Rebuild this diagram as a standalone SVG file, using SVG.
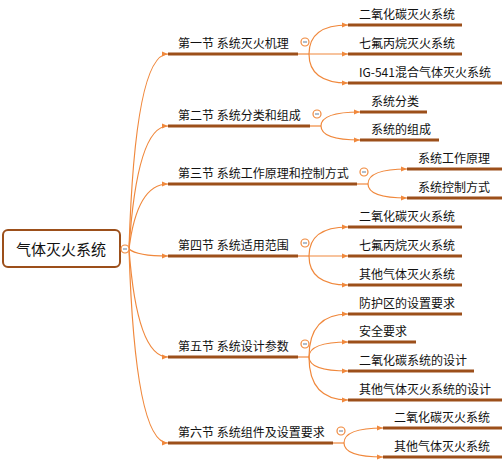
<svg xmlns="http://www.w3.org/2000/svg" width="502" height="464" viewBox="0 0 502 464">
<defs>
<marker id="arr" viewBox="0 0 6 6" refX="6" refY="3" markerWidth="6" markerHeight="6" markerUnits="userSpaceOnUse" orient="auto">
<path d="M0,0.5 L6,3 L0,5.5 Z" fill="#f0883c"/>
</marker>
<style>
.t{font-family:"Noto Sans CJK SC","Microsoft YaHei",sans-serif;font-size:12px;fill:#111}
.r{font-family:"Noto Sans CJK SC","Microsoft YaHei",sans-serif;font-size:15px;fill:#111}
.u{stroke:#9c4f1a;stroke-width:3;fill:none}
.c{stroke:#f0883c;stroke-width:1.2;fill:none;marker-end:url(#arr)}
.cl{stroke:#f0883c;stroke-width:1.2;fill:none}
.k{fill:#fff;stroke:#f0883c;stroke-width:1.2}
.m{stroke:#8fa3b8;stroke-width:1.4}
</style>
</defs>
<rect width="502" height="464" fill="#fff"/>
<g id="connectors">
<path class="c" d="M129,249 Q135,54 168,54"/>
<path class="c" d="M129,249 Q137,126 168,126"/>
<path class="c" d="M129,249 Q137,184 168,184"/>
<path class="c" d="M129,249 Q137,256 168,256"/>
<path class="c" d="M129,249 Q137,357 168,357"/>
<path class="c" d="M129,249 Q135,443 168,443"/>
<path class="cl" d="M298,54 L309,54"/>
<path class="c" d="M309,54 Q309,25 348,25"/>
<path class="c" d="M309,54 L348,54"/>
<path class="c" d="M309,54 Q309,83 348,83"/>
<path class="cl" d="M310,126 L321,126"/>
<path class="c" d="M321,126 Q321,112 360,112"/>
<path class="c" d="M321,126 Q321,140 360,140"/>
<path class="cl" d="M357,184 L368,184"/>
<path class="c" d="M368,184 Q368,169 407,169"/>
<path class="c" d="M368,184 Q368,198 407,198"/>
<path class="cl" d="M298,256 L309,256"/>
<path class="c" d="M309,256 Q309,227 348,227"/>
<path class="c" d="M309,256 L348,256"/>
<path class="c" d="M309,256 Q309,285 348,285"/>
<path class="cl" d="M298,357 L309,357"/>
<path class="c" d="M309,357 Q309,314 348,314"/>
<path class="c" d="M309,357 Q309,342 348,342"/>
<path class="c" d="M309,357 Q309,371 348,371"/>
<path class="c" d="M309,357 Q309,400 348,400"/>
<path class="cl" d="M333,443 L344,443"/>
<path class="c" d="M344,443 Q344,428 383,428"/>
<path class="c" d="M344,443 Q344,457 383,457"/>
</g>
<g id="root">
<rect x="3" y="230" width="117" height="37" rx="5" fill="#fff" stroke="#9c4f1a" stroke-width="2"/>
<text class="r" x="61" y="255" text-anchor="middle">气体灭火系统</text>
<circle class="k" cx="125" cy="249" r="4"/><line class="m" x1="123" y1="249" x2="127" y2="249"/>
</g>
<g id="n1">
<text class="t" x="178" y="48">第一节 系统灭火机理</text>
<line class="u" x1="168" y1="54" x2="298" y2="54"/>
<circle class="k" cx="305" cy="42" r="4"/><line class="m" x1="303" y1="42" x2="307" y2="42"/>
</g>
<g id="n1a"><text class="t" x="359" y="19">二氧化碳灭火系统</text><line class="u" x1="348" y1="25" x2="462" y2="25"/></g>
<g id="n1b"><text class="t" x="359" y="48">七氟丙烷灭火系统</text><line class="u" x1="348" y1="54" x2="462" y2="54"/></g>
<g id="n1c"><text class="t" x="359" y="77">IG-541混合气体灭火系统</text><line class="u" x1="348" y1="83" x2="502" y2="83"/></g>
<g id="n2">
<text class="t" x="178" y="120">第二节 系统分类和组成</text>
<line class="u" x1="168" y1="126" x2="310" y2="126"/>
<circle class="k" cx="317" cy="114" r="4"/><line class="m" x1="315" y1="114" x2="319" y2="114"/>
</g>
<g id="n2a"><text class="t" x="371" y="106">系统分类</text><line class="u" x1="360" y1="112" x2="427" y2="112"/></g>
<g id="n2b"><text class="t" x="371" y="134">系统的组成</text><line class="u" x1="360" y1="140" x2="439" y2="140"/></g>
<g id="n3">
<text class="t" x="178" y="178">第三节 系统工作原理和控制方式</text>
<line class="u" x1="168" y1="184" x2="357" y2="184"/>
<circle class="k" cx="364" cy="172" r="4"/><line class="m" x1="362" y1="172" x2="366" y2="172"/>
</g>
<g id="n3a"><text class="t" x="418" y="163">系统工作原理</text><line class="u" x1="407" y1="169" x2="502" y2="169"/></g>
<g id="n3b"><text class="t" x="418" y="192">系统控制方式</text><line class="u" x1="407" y1="198" x2="502" y2="198"/></g>
<g id="n4">
<text class="t" x="178" y="250">第四节 系统适用范围</text>
<line class="u" x1="168" y1="256" x2="298" y2="256"/>
<circle class="k" cx="305" cy="243" r="4"/><line class="m" x1="303" y1="243" x2="307" y2="243"/>
</g>
<g id="n4a"><text class="t" x="359" y="221">二氧化碳灭火系统</text><line class="u" x1="348" y1="227" x2="462" y2="227"/></g>
<g id="n4b"><text class="t" x="359" y="250">七氟丙烷灭火系统</text><line class="u" x1="348" y1="256" x2="462" y2="256"/></g>
<g id="n4c"><text class="t" x="359" y="279">其他气体灭火系统</text><line class="u" x1="348" y1="285" x2="462" y2="285"/></g>
<g id="n5">
<text class="t" x="178" y="351">第五节 系统设计参数</text>
<line class="u" x1="168" y1="357" x2="298" y2="357"/>
<circle class="k" cx="305" cy="344" r="4"/><line class="m" x1="303" y1="344" x2="307" y2="344"/>
</g>
<g id="n5a"><text class="t" x="359" y="308">防护区的设置要求</text><line class="u" x1="348" y1="314" x2="462" y2="314"/></g>
<g id="n5b"><text class="t" x="359" y="336">安全要求</text><line class="u" x1="348" y1="342" x2="416" y2="342"/></g>
<g id="n5c"><text class="t" x="359" y="365">二氧化碳系统的设计</text><line class="u" x1="348" y1="371" x2="474" y2="371"/></g>
<g id="n5d"><text class="t" x="359" y="394">其他气体灭火系统的设计</text><line class="u" x1="348" y1="400" x2="502" y2="400"/></g>
<g id="n6">
<text class="t" x="178" y="437">第六节 系统组件及设置要求</text>
<line class="u" x1="168" y1="443" x2="333" y2="443"/>
<circle class="k" cx="341" cy="431" r="4"/><line class="m" x1="339" y1="431" x2="343" y2="431"/>
</g>
<g id="n6a"><text class="t" x="394" y="422">二氧化碳灭火系统</text><line class="u" x1="383" y1="428" x2="502" y2="428"/></g>
<g id="n6b"><text class="t" x="394" y="451">其他气体灭火系统</text><line class="u" x1="383" y1="457" x2="502" y2="457"/></g>
</svg>
